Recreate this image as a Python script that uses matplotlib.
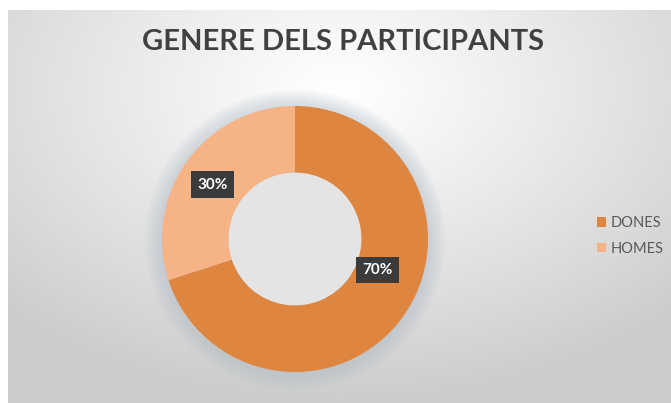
import numpy as np
import matplotlib
matplotlib.use("Agg")
import matplotlib.pyplot as plt

categories = ["DONES", "HOMES"]
values = [70, 30]
colors = ["#DE8540", "#F6B386"]
title = "GENERE DELS PARTICIPANTS"

W, H = 671, 403
fig = plt.figure(figsize=(W / 100, H / 100), dpi=100)
fig.patch.set_facecolor("white")

# background panel with radial gradient
bx0 = 8 / W
bg = fig.add_axes([bx0, 0, 1 - bx0, 1 - 10 / H])
bg.set_axis_off()
ny, nx = 200, 330
yy, xx = np.mgrid[0:ny, 0:nx]
cx, cy = nx * 0.5, ny * 0.2
d = np.sqrt(((xx - cx) / nx) ** 2 + ((yy - cy) / ny * 0.9) ** 2)
d = np.clip(d / 0.72, 0, 1)
v = 1.0 - 0.2 * d ** 1.1
img = np.dstack([v, v, v])
bg.imshow(img, aspect="auto", extent=[0, 1, 0, 1], origin="upper")
bg.set_xlim(0, 1)
bg.set_ylim(0, 1)

# donut
cxp, cyp, r = 295, 239, 133
ax = fig.add_axes([(cxp - r) / W, 1 - (cyp + r) / H, 2 * r / W, 2 * r / H])
ax.set_axis_off()
# soft shadow
for k in range(12):
    rr = 1.0 + 0.012 * k
    ax.add_patch(plt.Circle((0, -0.01), rr, color="#b0bcc8", alpha=0.05, lw=0,
                            zorder=0, clip_on=False))
wedges, _ = ax.pie(values, colors=colors, startangle=90, counterclock=False,
                   radius=1.0, wedgeprops=dict(width=0.5, linewidth=0))
for w in wedges:
    w.set_zorder(2)
ax.add_patch(plt.Circle((0, 0), 0.5, color="#e4e4e4", lw=0, zorder=1.5))
ax.set_xlim(-1, 1)
ax.set_ylim(-1, 1)
ax.set_aspect("equal")

label_pos = [(-20.7, 0.66), (146.6, 0.74)]
for (ang, rad), val in zip(label_pos, values):
    a = np.deg2rad(ang)
    ax.text(rad * np.cos(a), rad * np.sin(a), f"{val}%", ha="center", va="center",
            color="white", fontsize=11, fontweight="bold", family="Lato", zorder=5,
            bbox=dict(boxstyle="square,pad=0.42", fc="#3b3b3b", ec="none"))

fig.text(343 / W, 1 - 42 / H, title, ha="center", va="center", fontsize=21,
         fontweight="bold", family="Lato", color="#404040")

# legend
handles = [plt.Rectangle((0, 0), 1, 1, fc=c, ec="none") for c in colors]
fig.legend(handles, categories, loc="center left", bbox_to_anchor=(584 / W, 1 - 236 / H),
           frameon=False, handlelength=0.6, handleheight=0.6,
           handletextpad=0.3, labelspacing=0.8, prop=dict(family="Lato", size=10.5),
           labelcolor="#595959")

fig.savefig("out.png", dpi=100)
